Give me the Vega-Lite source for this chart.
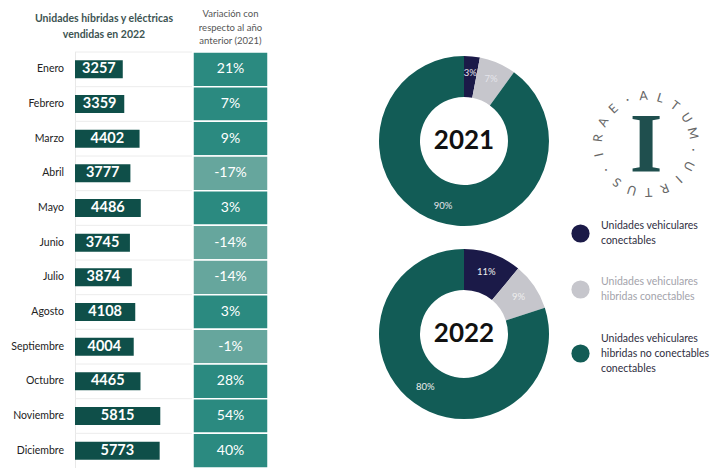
{
  "$schema": "https://vega.github.io/schema/vega-lite/v6.json",
  "width": 728,
  "height": 468,
  "autosize": {"type": "fit", "contains": "padding"},
  "padding": 0,
  "background": "white",
  "config": {
    "view": {"stroke": null},
    "font": "Lato",
    "locale": {"number": {"decimal": ".", "thousands": ",", "grouping": [3], "currency": ["$", ""], "minus": "-"}}
  },
  "datasets": {
    "meses": [
      {"mes": "Enero", "unidades": 3257, "variacion": 0.21},
      {"mes": "Febrero", "unidades": 3359, "variacion": 0.07},
      {"mes": "Marzo", "unidades": 4402, "variacion": 0.09},
      {"mes": "Abril", "unidades": 3777, "variacion": -0.17},
      {"mes": "Mayo", "unidades": 4486, "variacion": 0.03},
      {"mes": "Junio", "unidades": 3745, "variacion": -0.14},
      {"mes": "Julio", "unidades": 3874, "variacion": -0.14},
      {"mes": "Agosto", "unidades": 4108, "variacion": 0.03},
      {"mes": "Septiembre", "unidades": 4004, "variacion": -0.01},
      {"mes": "Octubre", "unidades": 4465, "variacion": 0.28},
      {"mes": "Noviembre", "unidades": 5815, "variacion": 0.54},
      {"mes": "Diciembre", "unidades": 5773, "variacion": 0.40}
    ],
    "donas": [
      {"anio": 2021, "categoria": "Unidades vehiculares conectables", "pct": 0.03},
      {"anio": 2021, "categoria": "Unidades vehiculares hibridas conectables", "pct": 0.07},
      {"anio": 2021, "categoria": "Unidades vehiculares hibridas no conectables conectables", "pct": 0.90},
      {"anio": 2022, "categoria": "Unidades vehiculares conectables", "pct": 0.11},
      {"anio": 2022, "categoria": "Unidades vehiculares hibridas conectables", "pct": 0.09},
      {"anio": 2022, "categoria": "Unidades vehiculares hibridas no conectables conectables", "pct": 0.80}
    ],
    "logo": [
      {"letra": "A", "pos": 0}, {"letra": "L", "pos": 1}, {"letra": "T", "pos": 2},
      {"letra": "U", "pos": 3}, {"letra": "M", "pos": 4}, {"letra": "·", "pos": 5},
      {"letra": "U", "pos": 6}, {"letra": "I", "pos": 7}, {"letra": "R", "pos": 8},
      {"letra": "T", "pos": 9}, {"letra": "U", "pos": 10}, {"letra": "S", "pos": 11},
      {"letra": "·", "pos": 12}, {"letra": "I", "pos": 13}, {"letra": "R", "pos": 14},
      {"letra": "A", "pos": 15}, {"letra": "E", "pos": 16}, {"letra": "·", "pos": 17}
    ],
    "inicial": [{"simbolo": "I"}],
    "encabezados": [{"columna": "unidades"}]
  },
  "resolve": {"scale": {"x": "independent", "y": "independent", "color": "independent", "theta": "independent", "angle": "independent"}},
  "layer": [
    {
      "data": {"name": "meses"},
      "resolve": {"scale": {"x": "independent", "color": "independent"}},
      "encoding": {
        "y": {
          "field": "mes", "type": "nominal", "sort": null, "axis": null,
          "scale": {
            "domain": ["Enero", "Febrero", "Marzo", "Abril", "Mayo", "Junio", "Julio", "Agosto", "Septiembre", "Octubre", "Noviembre", "Diciembre"],
            "range": [52, 468], "paddingInner": 0, "paddingOuter": 0
          }
        }
      },
      "layer": [
        {
          "encoding": {
            "x": {"field": "unidades", "type": "quantitative", "axis": null, "scale": {"domain": [0, 7500], "range": [75, 185], "nice": false, "zero": true}}
          },
          "layer": [
            {
              "mark": {"type": "rule", "color": "#ececec", "strokeWidth": 1},
              "encoding": {
                "y": {"field": "mes", "type": "nominal", "bandPosition": 0},
                "x": {"datum": 0, "type": "quantitative"},
                "x2": {"datum": 8000}
              }
            },
            {
              "mark": {"type": "rect", "color": "#e8e8e8"},
              "encoding": {
                "x": {"datum": 0, "type": "quantitative"},
                "x2": {"datum": 68}
              }
            },
            {
              "mark": {"type": "bar", "color": "#0f4f49", "height": {"band": 0.52}},
              "encoding": {}
            },
            {
              "mark": {"type": "text", "align": "right", "dx": -11, "fontSize": 10.5, "color": "#222222"},
              "encoding": {
                "x": {"datum": 0, "type": "quantitative"},
                "text": {"field": "mes", "type": "nominal"}
              }
            }
          ]
        },
        {
          "mark": {"type": "text", "color": "white", "fontWeight": "bold", "fontSize": 14.5, "baseline": "middle"},
          "encoding": {
            "x": {"field": "unidades", "type": "quantitative", "axis": null, "scale": {"domain": [0, 15000], "range": [75, 185], "nice": false, "zero": true}},
            "text": {"field": "unidades", "type": "quantitative", "format": "d"}
          }
        },
        {
          "encoding": {
            "x": {"datum": 0, "type": "quantitative", "axis": null, "scale": {"domain": [0, 1], "range": [193, 268], "nice": false, "zero": false}}
          },
          "layer": [
            {
              "mark": {"type": "rect", "stroke": "white", "strokeWidth": 1.5},
              "encoding": {
                "x2": {"datum": 1},
                "color": {"field": "variacion", "type": "quantitative", "legend": null, "scale": {"type": "threshold", "domain": [0], "range": ["#66a69d", "#2b8a80"]}}
              }
            },
            {
              "mark": {"type": "text", "color": "white", "fontSize": 14, "baseline": "middle"},
              "encoding": {
                "x": {"datum": 0.5, "type": "quantitative"},
                "text": {"field": "variacion", "type": "quantitative", "format": ".0%"}
              }
            },
            {
              "data": {"values": [{"encabezado": "derecho"}]},
              "mark": {"type": "text", "align": "center", "baseline": "middle", "dy": -55, "fontSize": 9.5, "color": "#555555", "lineHeight": 13.5},
              "encoding": {
                "x": {"datum": 0.5, "type": "quantitative"},
                "y": {"datum": "Enero", "type": "nominal"},
                "text": {"value": ["Variación con", "respecto al año", "anterior (2021)"]}
              }
            },
            {
              "data": {"name": "encabezados"},
              "mark": {"type": "text", "align": "center", "baseline": "middle", "dy": -50, "fontSize": 10.5, "fontWeight": "bold", "color": "#3d5452", "lineHeight": 16},
              "encoding": {
                "x": {"datum": -1.187, "type": "quantitative"},
                "y": {"datum": "Enero", "type": "nominal"},
                "text": {"value": ["Unidades híbridas y eléctricas", "vendidas  en 2022"]}
              }
            }
          ]
        }
      ]
    },
    {
      "data": {"name": "donas"},
      "encoding": {
        "x": {"field": "anio", "type": "ordinal", "axis": null, "scale": {"type": "point", "range": [464, 464]}},
        "y": {"field": "anio", "type": "ordinal", "axis": null, "scale": {"type": "point", "range": [141, 334], "padding": 0}}
      },
      "layer": [
        {
          "transform": [{"filter": "datum.anio == 2021"}],
          "mark": {"type": "arc", "outerRadius": 85, "innerRadius": 44},
          "encoding": {
            "theta": {"field": "pct", "type": "quantitative", "stack": true},
            "order": {"field": "categoria", "type": "nominal"},
            "color": {
              "field": "categoria", "type": "nominal",
              "scale": {
                "domain": ["Unidades vehiculares conectables", "Unidades vehiculares hibridas conectables", "Unidades vehiculares hibridas no conectables conectables"],
                "range": ["#1b1a48", "#c6c6cc", "#125c56"]
              },
              "legend": {
                "orient": "none", "legendX": 571, "legendY": 224, "title": null,
                "symbolType": "circle", "symbolSize": 330, "symbolStrokeWidth": 0, "symbolOpacity": 1,
                "labelFont": "Lato", "labelFontSize": 10.5, "labelOffset": 11, "rowPadding": 30, "labelLimit": 220,
                "labelExpr": "split(replace(replace(datum.label, 'vehiculares ', 'vehiculares|'), 'no conectables ', 'no conectables|'), '|')",
                "encode": {
                  "labels": {
                    "update": {
                      "fill": {"signal": "datum.value == 'Unidades vehiculares hibridas conectables' ? '#a3a3ab' : '#2f2f3f'"},
                      "lineHeight": {"value": 15},
                      "dy": {"signal": "datum.value == 'Unidades vehiculares hibridas no conectables conectables' ? -15 : -7.5"}
                    }
                  }
                }
              }
            }
          }
        },
        {
          "transform": [{"filter": "datum.anio == 2022"}],
          "mark": {"type": "arc", "outerRadius": 85, "innerRadius": 44},
          "encoding": {
            "theta": {"field": "pct", "type": "quantitative", "stack": true},
            "order": {"field": "categoria", "type": "nominal"},
            "color": {"field": "categoria", "type": "nominal"}
          }
        },
        {
          "transform": [{"filter": "datum.anio == 2021"}],
          "mark": {"type": "text", "radius": 68, "fontSize": 9.5, "color": "#e4e4ea"},
          "encoding": {
            "theta": {"field": "pct", "type": "quantitative", "stack": true},
            "order": {"field": "categoria", "type": "nominal"},
            "text": {"field": "pct", "type": "quantitative", "format": ".0%"}
          }
        },
        {
          "transform": [{"filter": "datum.anio == 2022"}],
          "mark": {"type": "text", "radius": 66, "fontSize": 9.5, "color": "#eeeeee"},
          "encoding": {
            "theta": {"field": "pct", "type": "quantitative", "stack": true},
            "order": {"field": "categoria", "type": "nominal"},
            "text": {"field": "pct", "type": "quantitative", "format": ".0%"}
          }
        },
        {
          "transform": [{"aggregate": [{"op": "count", "as": "n"}], "groupby": ["anio"]}],
          "mark": {"type": "text", "fontSize": 26, "fontWeight": "bold", "color": "#111111", "baseline": "middle"},
          "encoding": {
            "text": {"field": "anio", "type": "nominal"}
          }
        }
      ]
    },
    {
      "encoding": {
        "x": {"datum": "logo", "type": "nominal", "axis": null, "scale": {"type": "point", "range": [646, 646]}},
        "y": {"datum": "logo", "type": "nominal", "axis": null, "scale": {"type": "point", "range": [144, 144]}}
      },
      "layer": [
        {
          "data": {"name": "logo"},
          "mark": {"type": "text", "radius": 48, "fontSize": 12.5, "color": "#666666", "baseline": "middle"},
          "encoding": {
            "theta": {"field": "pos", "type": "quantitative", "scale": {"domain": [0, 18], "range": [-0.05, 6.233]}},
            "angle": {"field": "pos", "type": "quantitative", "scale": {"domain": [0, 18], "range": [-3, 357]}},
            "text": {"field": "letra", "type": "nominal"}
          }
        },
        {
          "data": {"name": "inicial"},
          "mark": {"type": "text", "font": "Liberation Serif", "fontWeight": "bold", "fontSize": 84, "color": "#1f4f4e", "baseline": "alphabetic", "dy": 28},
          "encoding": {
            "text": {"field": "simbolo", "type": "nominal"}
          }
        }
      ]
    }
  ]
}
